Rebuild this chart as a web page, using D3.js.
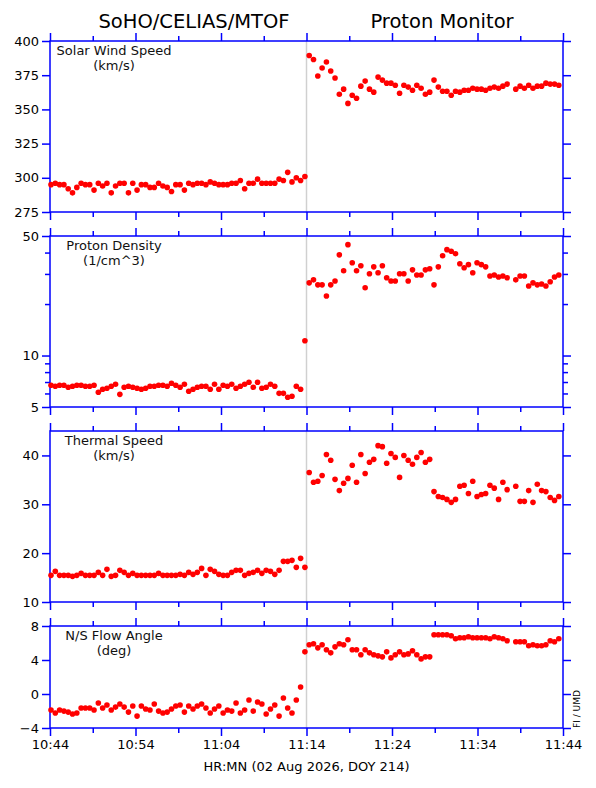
<!DOCTYPE html>
<html>
<head>
<meta charset="utf-8">
<script src="https://cdn.jsdelivr.net/npm/d3@7"></script>
<style>
  body { margin: 0; background: #fff; }
  svg { display: block; font-family: "DejaVu Sans", sans-serif; }
</style>
</head>
<body>
<div id="chart"></div>
<script>
// sample times: 30 s cadence starting just after 10:44 (one missing sample near 11:38)
const startTime = new Date(2026, 7, 2, 10, 44, 7);
const cadenceSec = 30.2;

const windSpeed = [
  295, 296, 295, 295, 292, 289, 293, 296, 295, 295,
  291, 296, 294, 296, 289, 294, 296, 296, 289, 296,
  291, 295, 295, 293, 293, 296, 294, 293, 290, 295,
  295, 291, 296, 295, 296, 296, 295, 297, 296, 295,
  295, 295, 296, 296, 298, 292, 296, 296, 299, 296,
  296, 296, 296, 299, 298, 304, 297, 300, 298, 301,
  389.4, 386.5, 374.4, 380.3, 384.7, 378.1, 372.9, 361.1, 364.8, 354.4,
  360.3, 358.1, 367.0, 370.7, 364.8, 362.6, 373.6, 371.4, 369.2, 369.2,
  367.7, 361.8, 367.7, 366.3, 364.0, 367.7, 365.5, 361.1, 362.6, 371.4,
  366.3, 363.3, 363.3, 360.3, 363.3, 362.6, 364.0, 364.0, 365.5, 364.8,
  364.8, 364.0, 365.5, 366.3, 365.5, 367.0, 368.5, null,
  364.8, 367.0, 365.5, 367.7, 365.5, 367.0, 367.0, 369.2, 368.5, 368.5, 367.7
];

const protonDensity = [
  6.70, 6.61, 6.70, 6.70, 6.52, 6.61, 6.70, 6.70, 6.61, 6.61,
  6.70, 6.10, 6.35, 6.44, 6.61, 6.79, 5.93, 6.52, 6.61, 6.52,
  6.44, 6.35, 6.44, 6.61, 6.61, 6.70, 6.70, 6.61, 6.89, 6.70,
  6.52, 6.79, 6.18, 6.35, 6.52, 6.61, 6.61, 6.35, 6.79, 6.35,
  6.70, 6.61, 6.79, 6.44, 6.61, 6.79, 6.98, 6.52, 6.98, 6.44,
  6.52, 6.79, 6.61, 6.01, 6.01, 5.70, 5.78, 6.61, 6.35, 12.2,
  26.6, 27.7, 25.9, 25.9, 22.3, 25.9, 27.3, 38.8, 31.3, 44.5,
  34.9, 31.3, 33.5, 24.9, 30.1, 33.0, 30.5, 33.5, 28.5, 27.3,
  27.3, 30.1, 30.1, 27.3, 31.7, 29.6, 29.6, 31.7, 32.2, 25.9,
  33.0, 38.3, 41.6, 40.7, 39.4, 34.4, 32.6, 34.0, 30.5, 34.9,
  34.0, 33.0, 29.2, 29.6, 28.8, 29.2, 28.5, null,
  27.7, 29.2, 29.2, 25.5, 26.6, 25.9, 26.2, 25.5, 27.0, 28.8, 29.6
];

const thermalSpeed = [
  15.45, 16.27, 15.45, 15.45, 15.45, 15.25, 15.45, 15.86, 15.45, 15.45,
  15.45, 16.07, 15.45, 16.68, 15.25, 15.45, 16.48, 16.07, 15.45, 15.86,
  15.45, 15.45, 15.45, 15.45, 15.45, 15.86, 15.45, 15.45, 15.45, 15.45,
  15.66, 15.45, 16.07, 15.66, 16.07, 16.88, 15.45, 16.68, 16.27, 15.66,
  15.45, 15.45, 16.07, 16.48, 16.48, 15.45, 15.86, 16.07, 16.48, 15.86,
  16.48, 16.27, 15.66, 16.48, 18.32, 18.32, 18.52, 17.09, 18.93, 17.09,
  36.5, 34.5, 34.7, 35.9, 40.2, 39.0, 35.1, 32.8, 34.3, 35.3,
  38.0, 34.5, 40.2, 36.3, 38.6, 39.2, 42.0, 41.8, 38.4, 40.4,
  39.6, 35.5, 40.0, 39.0, 38.2, 39.6, 40.6, 38.6, 39.2, 32.6,
  31.6, 31.4, 31.0, 30.4, 31.0, 33.7, 33.9, 32.2, 34.7, 31.6,
  32.0, 32.2, 33.9, 33.3, 31.0, 34.5, 33.0, null,
  33.7, 30.6, 30.6, 32.8, 30.4, 34.1, 32.8, 32.6, 31.4, 30.8, 31.6
];

const flowAngle = [
  -1.89, -2.24, -1.89, -2.01, -2.13, -2.36, -2.24, -1.65, -1.65, -1.65,
  -1.89, -1.06, -1.65, -1.30, -1.89, -1.54, -1.18, -1.54, -2.13, -1.42,
  -2.60, -1.42, -1.77, -1.89, -1.18, -2.01, -2.24, -2.13, -1.77, -1.42,
  -1.30, -2.13, -1.42, -1.77, -1.42, -1.18, -1.65, -2.24, -1.77, -1.42,
  -2.24, -1.89, -2.01, -1.06, -2.24, -1.89, -0.71, -2.01, -0.94, -1.18,
  -2.36, -1.77, -1.30, -2.60, -0.47, -1.65, -2.24, -0.71, 0.83, 4.96,
  5.79, 5.91, 5.43, 5.79, 5.20, 4.84, 5.55, 5.91, 5.79, 6.38,
  5.20, 5.20, 4.61, 5.20, 4.84, 4.61, 4.49, 4.37, 4.96, 4.25,
  4.61, 4.96, 4.61, 4.72, 5.08, 4.61, 4.13, 4.37, 4.37, 6.97,
  6.97, 6.97, 6.97, 6.85, 6.50, 6.61, 6.61, 6.73, 6.61, 6.61,
  6.61, 6.61, 6.50, 6.73, 6.61, 6.50, 6.26, null,
  6.14, 6.14, 6.14, 5.67, 5.79, 5.67, 5.67, 5.79, 6.26, 6.14, 6.50
];

// axis ticks
const speedTicks = [275, 300, 325, 350, 375, 400];
const densityTicks = [5, 10, 50];
const densityMinor = [6, 7, 8, 9, 20, 30, 40];
const thermalTicks = [10, 20, 30, 40];
const angleTicks = [-4, 0, 4, 8];
const timeTickLabels = ["10:44", "10:54", "11:04", "11:14", "11:24", "11:34", "11:44"];
const minorTickLabels = ["10:49", "10:59", "11:09", "11:19", "11:29", "11:39"];

const titleLeft = "SoHO/CELIAS/MTOF";
const titleRight = "Proton Monitor";
const xTitle = "HR:MN (02 Aug 2026, DOY 214)";
const eventTime = "11:14";

const W = 596, H = 788;
const x0 = 50, x1 = 563;
const BLUE = "#0000ff";

const hm = (s) => {
  const [h, m] = s.split(":").map(Number);
  return new Date(2026, 7, 2, h, m);
};

const svg = d3.select("#chart").append("svg")
  .attr("width", W)
  .attr("height", H);

const x = d3.scaleTime()
  .domain([hm(timeTickLabels[0]), hm(timeTickLabels[timeTickLabels.length - 1])])
  .range([x0, x1]);

const times = windSpeed.map((_, i) => new Date(startTime.getTime() + i * cadenceSec * 1000));

// panel layout
const panels = [
  { top: 41, bottom: 212, values: windSpeed, log: false, domain: [275, 400], ticks: speedTicks, minor: [],
    label: ["Solar Wind Speed", "(km/s)"] },
  { top: 236, bottom: 407, values: protonDensity, log: true, domain: [5, 50], ticks: densityTicks, minor: densityMinor,
    label: ["Proton Density", "(1/cm^3)"] },
  { top: 431, bottom: 602, values: thermalSpeed, log: false, domain: [10, 45], ticks: thermalTicks, minor: [],
    label: ["Thermal Speed", "(km/s)"] },
  { top: 626, bottom: 728, values: flowAngle, log: false, domain: [-4, 8], ticks: angleTicks, minor: [],
    label: ["N/S Flow Angle", "(deg)"] }
];

const majorX = timeTickLabels.map(hm);
const minorX = minorTickLabels.map(hm);

panels.forEach((p, pi) => {
  const y = (p.log ? d3.scaleLog() : d3.scaleLinear())
    .domain(p.domain)
    .range([p.bottom, p.top]);

  const g = svg.append("g");

  // event marker line
  g.append("line")
    .attr("x1", x(hm(eventTime))).attr("x2", x(hm(eventTime)))
    .attr("y1", p.top).attr("y2", p.bottom)
    .attr("stroke", "#d0d0d0")
    .attr("stroke-width", 1.5);

  // left / right axes with outward ticks
  const yMajor = (s) => s.tickValues(p.ticks).tickSize(8).tickSizeOuter(0).tickPadding(3);
  g.append("g")
    .attr("transform", `translate(${x0},0)`)
    .call(yMajor(d3.axisLeft(y)).tickFormat(d => d < 0 ? "\u2212" + Math.abs(d) : d));
  g.append("g")
    .attr("transform", `translate(${x1},0)`)
    .call(yMajor(d3.axisRight(y)).tickFormat(""));
  if (p.minor.length) {
    g.append("g").attr("transform", `translate(${x0},0)`)
      .call(d3.axisLeft(y).tickValues(p.minor).tickSize(5).tickSizeOuter(0).tickFormat(""));
    g.append("g").attr("transform", `translate(${x1},0)`)
      .call(d3.axisRight(y).tickValues(p.minor).tickSize(5).tickSizeOuter(0).tickFormat(""));
  }

  // top / bottom axes
  g.append("g").attr("transform", `translate(0,${p.top})`)
    .call(d3.axisTop(x).tickValues(majorX).tickSize(8).tickSizeOuter(0).tickFormat(""));
  g.append("g").attr("transform", `translate(0,${p.top})`)
    .call(d3.axisTop(x).tickValues(minorX).tickSize(5).tickSizeOuter(0).tickFormat(""));
  g.append("g").attr("transform", `translate(0,${p.bottom})`)
    .call(d3.axisBottom(x).tickValues(majorX).tickSize(8).tickSizeOuter(0).tickPadding(4)
      .tickFormat(pi === panels.length - 1 ? d3.timeFormat("%H:%M") : ""));
  g.append("g").attr("transform", `translate(0,${p.bottom})`)
    .call(d3.axisBottom(x).tickValues(minorX).tickSize(5).tickSizeOuter(0).tickFormat(""));

  // frame
  g.append("rect")
    .attr("x", x0).attr("y", p.top)
    .attr("width", x1 - x0).attr("height", p.bottom - p.top)
    .attr("fill", "none")
    .attr("stroke", BLUE)
    .attr("stroke-width", 1.5);

  g.selectAll(".domain").remove();
  g.selectAll(".tick line").attr("stroke", BLUE).attr("stroke-width", 1.5);
  g.selectAll(".tick text")
    .attr("fill", "#000")
    .attr("font-size", 13)
    .attr("font-family", "DejaVu Sans, sans-serif");

  // panel label
  const lab = g.append("text")
    .attr("text-anchor", "middle")
    .attr("font-size", 13)
    .attr("fill", "#111");
  lab.append("tspan").attr("x", 114).attr("y", p.top + 14).text(p.label[0]);
  lab.append("tspan").attr("x", 114).attr("y", p.top + 29).text(p.label[1]);

  // data points
  g.selectAll("circle")
    .data(p.values.map((v, i) => ({ t: times[i], v })).filter(d => d.v != null))
    .join("circle")
    .attr("cx", d => x(d.t))
    .attr("cy", d => y(d.v))
    .attr("r", 2.8)
    .attr("fill", "#ff0000");
});

// titles
svg.append("text")
  .attr("x", 194).attr("y", 28)
  .attr("text-anchor", "middle")
  .attr("font-size", 19.5)
  .text(titleLeft);
svg.append("text")
  .attr("x", 442).attr("y", 28)
  .attr("text-anchor", "middle")
  .attr("font-size", 19.5)
  .text(titleRight);

svg.append("text")
  .attr("x", (x0 + x1) / 2).attr("y", 771)
  .attr("text-anchor", "middle")
  .attr("font-size", 13)
  .text(xTitle);

svg.append("text")
  .attr("transform", `translate(580,728) rotate(-90)`)
  .attr("font-size", 9)
  .text("FI / UMD");
</script>
</body>
</html>
